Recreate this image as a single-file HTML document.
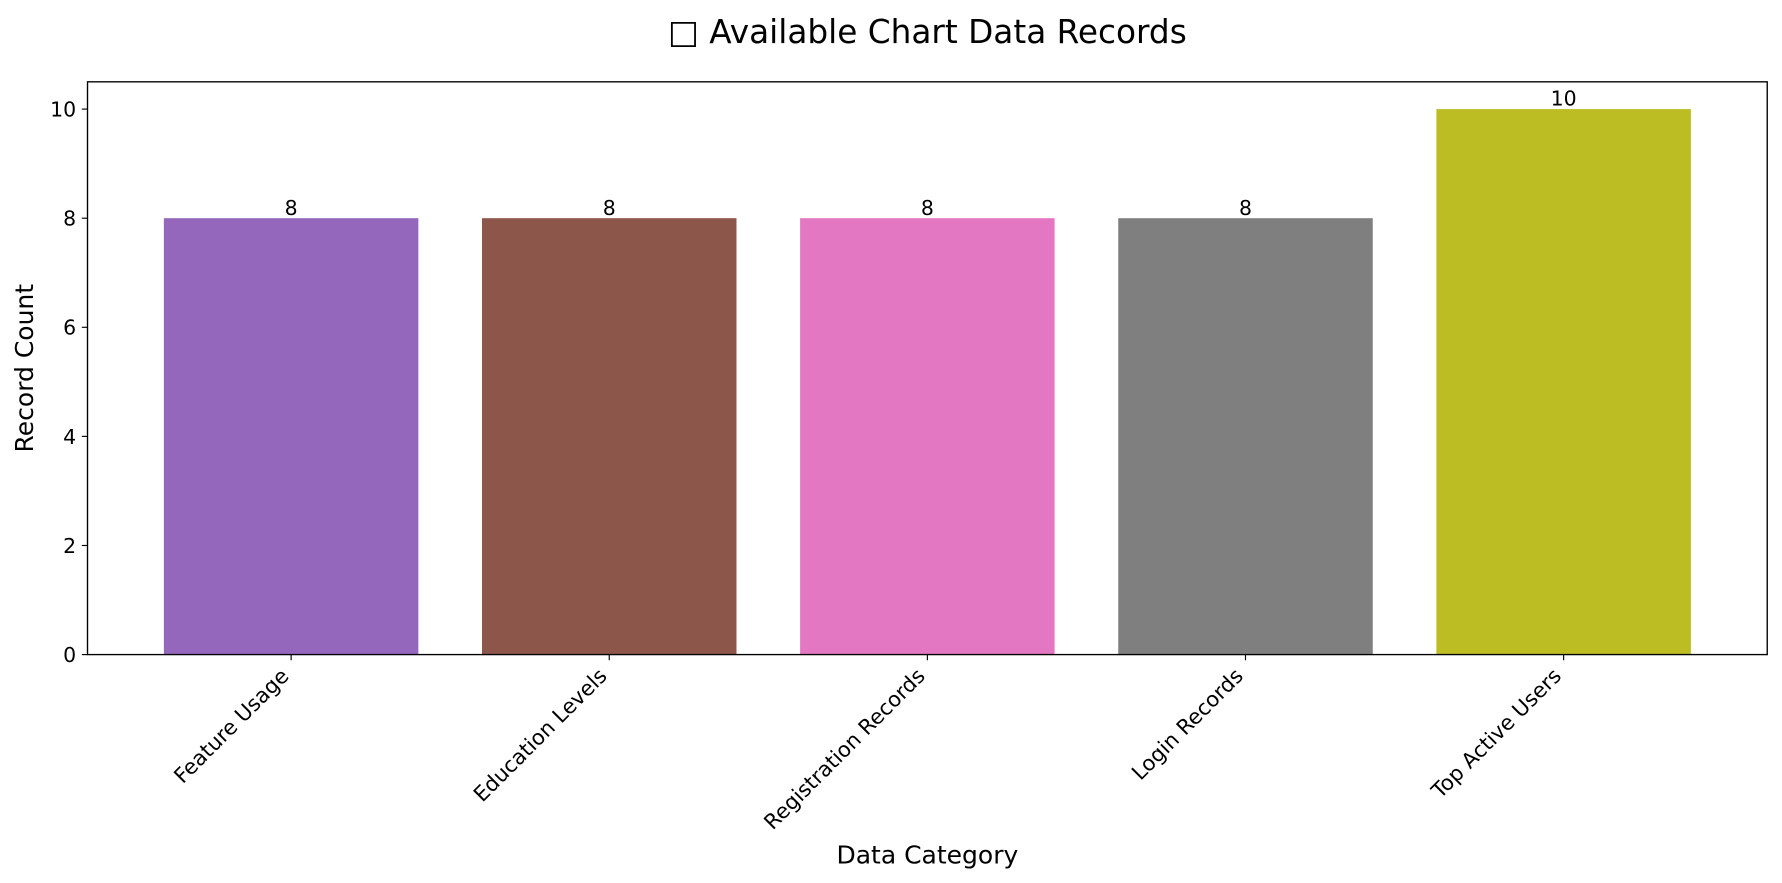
<!DOCTYPE html>
<html><head><meta charset="utf-8"><style>
html,body{margin:0;padding:0;background:#fff;}
svg{display:block;font-family:"DejaVu Sans","Liberation Sans",sans-serif;}
</style></head><body>
<svg id="chart" width="1782" height="883" viewBox="0 0 1568 777" preserveAspectRatio="none" xmlns="http://www.w3.org/2000/svg">
<rect width="1568" height="777" fill="#fff"/>
<text x="816" y="38" text-anchor="middle" font-size="28.8" fill="#000">□ Available Chart Data Records</text>
<g id="plot"></g>
<rect x="77" y="72" width="1478" height="504" fill="none" stroke="#000" stroke-width="1.2"/>
<text transform="translate(29,324) rotate(-90)" text-anchor="middle" font-size="22" fill="#000">Record Count</text>
<text x="816" y="760" text-anchor="middle" font-size="22" fill="#000">Data Category</text>
</svg>
<script>
const categories = ["Feature Usage","Education Levels","Registration Records","Login Records","Top Active Users"];
const values = [8,8,8,8,10];
const colors = ["#9467bd","#8c564b","#e377c2","#7f7f7f","#bcbd22"];
const yTicks = [0,2,4,6,8,10];

const L=77,R=1555,T=72,B=576;
const xMin=-0.64,xMax=categories.length-1+0.64,yMax=10.5;
const xs=v=>L+(v-xMin)/(xMax-xMin)*(R-L);
const ys=v=>B-v/yMax*(B-T);
const g=document.getElementById('plot');
const NS="http://www.w3.org/2000/svg";
function mk(t,a){const e=document.createElementNS(NS,t);for(const k in a)e.setAttribute(k,a[k]);g.appendChild(e);return e;}
const bw=(xs(0.4)-xs(-0.4));
categories.forEach((c,i)=>{
  const b=mk('rect',{x:xs(i)-bw/2,y:ys(values[i]),width:bw,height:ys(0)-ys(values[i]),fill:colors[i]});
  
  
  const v=mk('text',{x:xs(i),y:ys(values[i])-3,'text-anchor':'middle','font-size':'18',fill:'#000'});
  v.textContent=values[i];
  
  
  const tk=mk('line',{x1:xs(i),x2:xs(i),y1:B,y2:B+5,stroke:'#000','stroke-width':1});
  
  
  const tl=mk('text',{transform:`translate(${xs(i)-1},${B+20}) rotate(-45)`,'text-anchor':'end','font-size':'18.5',fill:'#000'});
  tl.textContent=c;
  
  
});
yTicks.forEach(t=>{
  const tk=mk('line',{x1:L-5,x2:L,y1:ys(t),y2:ys(t),stroke:'#000','stroke-width':1});
  
  
  const tl=mk('text',{x:L-10,y:ys(t)+6.5,'text-anchor':'end','font-size':'18',fill:'#000'});
  tl.textContent=t;
  
  
});
</script>
</body></html>
